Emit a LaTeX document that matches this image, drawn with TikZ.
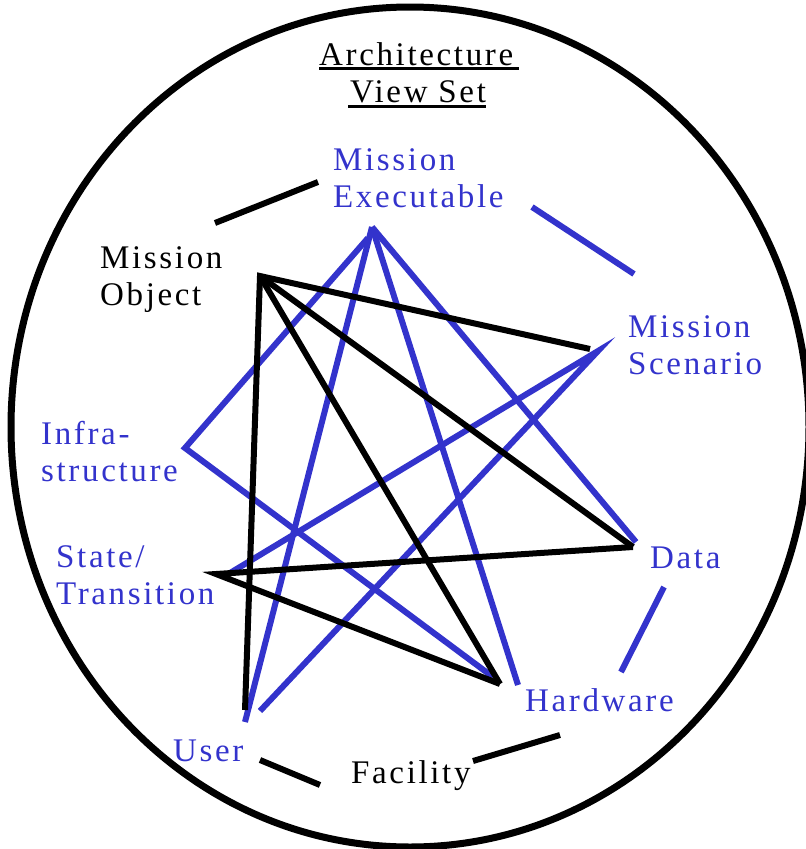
\documentclass[tikz,border=0pt]{standalone}
\usepackage{fontspec}
\setmainfont{Liberation Serif}[LetterSpace=8]
\definecolor{vblue}{RGB}{51,51,204}
\begin{document}
\begin{tikzpicture}[x=1pt,y=-1pt,
  lbl/.style={anchor=base west,inner sep=0pt,align=left,font=\fontsize{33}{37}\selectfont},
  bl/.style={lbl,text=vblue},
  bk/.style={lbl,text=black},
  kline/.style={line width=6pt,draw=black},
  bline/.style={line width=6pt,draw=vblue}]
\useasboundingbox (0,0) rectangle (806,849);
\draw[line width=7pt] (410,427) ellipse [x radius=399, y radius=420];

% labels (anchor at baseline of last line)
\node[bk] (title1) at (319,65) {Architecture};
\node[bk] (title2) at (350,102) {View Set};
\node[bk] (mo) at (100,305) {Mission\\Object};
\node[bl] (me) at (333,207) {Mission\\Executable};
\node[bl] (ms) at (628,374) {Mission\\Scenario};
\node[bl] (inf) at (41,481) {Infra-\\structure};
\node[bl] (st) at (56,604) {State/\\Transition};
\node[bl] (da) at (650,568) {Data};
\node[bl] (hw) at (525,711) {Hardware};
\node[bl] (us) at (173,761) {User};
\node[bk] (fa) at (351,783) {Facility};

% underlines
\draw[line width=3pt] ([yshift=-3.5pt]title1.base west) -- ([yshift=-3.5pt,xshift=6pt]title1.base east);
\draw[line width=3pt] ([yshift=-4pt,xshift=-2pt]title2.base west) -- ([yshift=-4pt]title2.base east);

% endpoints
\coordinate (moA) at (215,223);
\coordinate (meA) at (318,182);
\coordinate (moH) at (260,276);
\coordinate (msK) at (590,349);
\coordinate (daK) at (633,547);
\coordinate (hwK) at (500,684);
\coordinate (usK) at (245,710);
\coordinate (stK) at (216,574);
\coordinate (usF) at (260,760);
\coordinate (faU) at (320,785);
\coordinate (faH) at (473,761);
\coordinate (hwF) at (560,735);
\coordinate (meM) at (532,207);
\coordinate (msM) at (634,274);
\coordinate (meH) at (372,227);
\coordinate (meI) at (368,238);
\coordinate (infH) at (185,448);
\coordinate (usB) at (245,722);
\coordinate (hwB) at (518,685);
\coordinate (daB) at (636,542);
\coordinate (hwI) at (493,677);
\coordinate (msB) at (598,351);
\coordinate (stB) at (230,573);
\coordinate (usM) at (260,711);
\coordinate (daH) at (664,587);
\coordinate (hwD) at (621,672);

% blue connectors
\draw[bline] (meM) -- (msM);
\draw[bline] (meI) -- (infH) -- (hwI);
\draw[bline] (meH) -- (usB);
\draw[bline] (meH) -- (hwB);
\draw[bline] (meH) -- (daB);
\draw[bline] (stB) -- (msB) -- (usM);
\draw[bline] (daH) -- (hwD);

% black connectors
\draw[kline] (moA) -- (meA);
\draw[kline] (msK) -- (moH) -- (usK);
\draw[kline] (moH) -- (daK);
\draw[kline] (moH) -- (hwK);
\draw[kline] (daK) -- (stK) -- (hwK);
\draw[kline] (usF) -- (faU);
\draw[kline] (faH) -- (hwF);
\end{tikzpicture}
\end{document}
